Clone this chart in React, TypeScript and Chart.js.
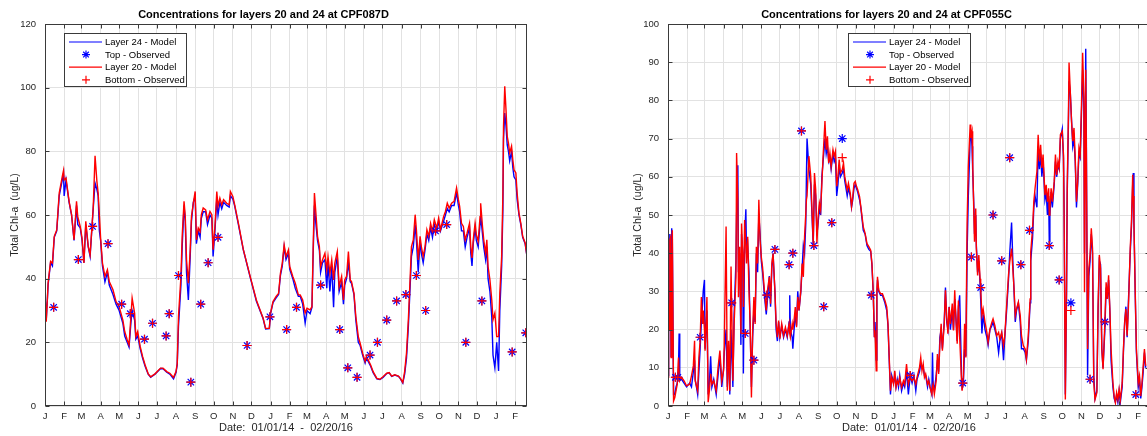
import React, { useEffect, useRef } from "react";
import { Chart, registerables } from "chart.js";

Chart.register(...registerables);

const FONT = '"Liberation Sans", Arial, Helvetica, sans-serif';

// ---------- axis ticks (month starts, days since 01/01/14) ----------
const monthLabels = ["J","F","M","A","M","J","J","A","S","O","N","D","J","F","M","A","M","J","J","A","S","O","N","D","J","F"];
const monthTickDays = [0,31,59,90,120,151,181,212,243,273,304,334,365,396,424,455,485,516,546,577,608,638,669,699,730,761];
const dayMax = 780;

const seriesLabels = ["Layer 24 - Model", "Top - Observed", "Layer 20 - Model", "Bottom - Observed"];

// ---------- CPF087D ----------
const days1 = [
  0,2,4,5,9,12,15,19,23,28,
  30,31,34,39,43,47,51,53,57,60,
  63,66,70,73,76,78,81,84,86,88,
  90,93,97,101,104,110,115,120,126,129,
  133,136,139,141,145,147,150,154,158,162,
  167,171,178,187,191,197,202,208,212,214,
  216,220,222,225,227,229,232,235,237,240,
  243,245,248,251,253,256,260,263,267,270,
  272,275,278,280,283,286,289,294,298,300,
  304,307,313,321,332,342,353,357,363,365,
  369,374,378,381,384,387,390,394,396,401,
  405,410,413,417,421,424,429,432,434,436,
  438,441,444,446,449,453,456,458,461,464,
  467,469,473,476,480,483,485,488,491,494,
  496,500,503,507,510,514,518,520,523,527,
  531,537,542,547,553,557,561,566,572,575,
  579,582,585,588,591,593,596,599,601,604,
  607,609,612,615,618,621,624,627,630,634,
  637,640,645,648,651,654,658,662,666,669,
  671,674,677,680,683,687,689,691,693,696,
  698,701,704,705,708,710,713,715,717,720,
  723,725,728,731,734,736,739,741,742,744,
  746,748,750,752,755,757,759,762,764,767,
  770,773,777,780
];
const layer20Model1 = [
  35.4,26.5,34.4,38.6,45.4,44.9,53.3,55.3,66.9,72.1,
  74,71,71.6,64.3,60.1,52.2,64.3,59.5,56.4,52.7,
  44.9,58,50.1,47.5,56.4,62.2,78.6,70.5,66.9,60,
  52.7,44.9,40.7,42.8,39.1,36.5,32.8,31.2,27,23.4,
  20.8,19.2,28.1,33.9,29.2,21.8,23.4,18.7,15.5,12.9,
  10.1,9.2,10.1,11.9,11.9,10.8,10.3,9,10.8,13.4,
  28.1,40.7,53.3,64.3,59.5,45.9,38.6,49.1,59.5,63.7,
  67.4,52.2,55.9,54.8,60.1,62.2,61.6,58.5,61.1,60.1,
  49.1,56.4,67.4,62.7,65.3,63.2,64.8,63.7,63.2,67.4,
  65.8,63.2,57.4,49.1,40.7,33.3,27.6,24.4,24.4,29.2,
  32.8,34.4,35.4,41.7,44.9,50.6,47,49.1,43.8,40.7,
  38.6,34.9,34.9,33.3,29.2,30.7,30.2,31.2,50.1,66.9,
  61.6,53.3,50.1,43.8,45.9,48,42.8,47,41.7,45.9,
  39.6,44.9,48.5,37.5,40.7,33.3,39.6,40.7,48.5,39.6,
  39.1,35.4,28.1,21.8,19.7,16.6,14,15.5,14.5,12.9,
  10.8,8.7,8.4,9.2,10.3,10.5,9.4,9.8,9.4,8.7,
  7.4,10.8,16.6,27.1,40.7,50.1,52.2,60.1,55.4,45.9,
  53.3,50.1,47,50.1,55.4,53.3,57.4,54.8,58.5,55.9,
  59,55.4,59.5,61.1,63.7,62.2,63.7,64.3,68.5,64.8,
  62.7,57.4,56.4,52.2,54.3,57.4,50.1,46.5,52.2,57.4,
  53.8,51.7,59.5,63.7,56.4,52.2,48,52.2,43.8,39.6,
  33.3,27.1,29.2,21.8,21.8,35.4,47,66.9,87.8,100.4,
  93.1,84.7,82.6,79.5,81.6,77.4,74.2,73.2,66.9,60.6,
  57.4,53.3,51.2,47
];
const layer24Model1 = [
  35,27,34,38,45,44,53,55,66,71,
  73,66,71,64,60,52,63,57,56,52,
  45,57,50,47,56,62,70,68,66,55,
  52,44,39,42,38,35,32,30,26,22,
  20,18.5,26,30,27,21,22,18,15,12.5,
  10,9,10,11.8,11.7,10.6,10,8.5,10.5,13,
  25,38,50,63,58,42,33.3,47,58,64,
  66,51,55,53,59,61,61,57,60,59,
  47,55,65,60,64,62,64,63,62.5,66,
  65,62.8,57,49,40.5,33,27.4,24.2,24.3,29,
  32.5,34,35,41,44,50,46,48,43,40,
  37,34.5,34.5,32,26,30,29,31,48,63,
  58,52,49,42,45,46,37,45,36,44,
  31,42,47,36,39,32,38,40,45,39,
  38.5,35,27,20,19,16,13.5,15,14,12.5,
  10.5,8.5,8.3,9,10.2,10.4,9.3,9.7,9.3,8.6,
  7.2,10,15,25,38,47,50,57,52,42,
  52,48,45,49,54,52,56,53,57,55,
  58,55,58,60,62,61,63,63,67,63,
  61,55,55,50,53,56,48,44,51,56,
  52,50,57,60,54,50,46,50,40,36,
  28,16,12,20,11,30,44,62,84,92,
  88,82,80,77,80,75,72,71,65,60,
  57,53,51,47
];
const obsDays1 = [14,54,77,102,124,138,161,174,196,201,216,236,252,264,280,327,364,391,407,446,477,490,505,526,538,553,569,584,601,616,632,650,681,707,756,778];
const topObs1 = [31,46,56.4,51,32,29,21,26,22,29,41,7.5,32,45,53,19,28,24,31,38,24,12,9,16,20,27,33,35,41,30,55,57,20,33,17,23];
const bottomObs1 = [31,46,56.4,51,32,29,21,26,22,29,41,7.5,32,45,53,19,28,24,31,38,24,12,9,16,20,27,33,35,41,30,55,57,20,33,17,23];

// ---------- CPF055C ----------
const days2 = [
  0,1,2,3,4,5,6,7,9,11,
  13,15,17,18,19,22,26,30,35,38,
  41,43,44,48,50,52,54,56,57,59,
  60,63,65,67,69,71,74,78,81,84,
  87,90,91,94,96,98,100,102,105,107,
  110,111,113,114,116,118,119,121,122,124,
  126,127,129,131,133,135,137,139,141,143,
  145,147,149,151,153,156,159,161,164,166,
  168,170,173,175,177,179,181,184,187,190,
  193,196,197,198,201,202,204,206,208,210,
  212,215,217,219,221,223,224,225,228,231,
  233,235,237,239,241,243,245,247,249,251,
  254,256,258,260,262,264,267,269,271,273,
  275,277,279,282,284,286,288,290,292,295,
  297,299,301,303,305,307,310,312,314,316,
  319,322,325,328,330,332,334,335,337,338,
  339,341,344,347,351,354,356,358,360,362,
  365,367,369,371,373,375,378,381,383,386,
  389,392,395,398,401,403,407,409,411,413,
  415,417,420,422,424,427,428,429,431,434,
  436,438,440,442,444,447,449,451,453,455,
  457,460,462,464,466,468,470,472,475,476,
  478,480,482,484,486,489,490,492,493,495,
  496,498,499,501,503,505,506,508,510,513,
  516,518,521,524,526,529,532,535,537,540,
  543,545,548,551,553,556,558,560,562,564,
  567,570,572,575,578,580,583,586,587,590,
  592,594,597,599,601,603,605,607,610,612,
  614,616,617,618,620,622,625,627,629,631,
  633,635,638,640,641,643,645,646,648,649,
  651,653,655,657,659,661,663,665,667,669,
  671,673,674,676,677,679,681,683,685,687,
  689,691,694,696,698,700,702,704,707,709,
  711,713,715,717,720,722,724,726,728,730,
  732,735,737,739,741,743,745,748,750,752,
  753,754,756,758,761,763,765,767,769,771,
  773
];
const layer20Model2 = [
  7.5,26.8,19.8,43.4,44,12.7,30,46,1.3,2.2,
  4,5.7,12.7,8,6.6,7.5,6.6,5.3,5.7,7.9,
  10.5,17.1,6.6,4,12.7,17.1,28.5,21.5,25,20,
  14.5,28.5,1,4,8.4,5.7,6.6,4,10.1,14.5,
  6.6,9.3,15.4,47,4,17.1,4,36.5,6.6,21.5,
  33.8,66.2,54,28.5,41.7,18.9,47.8,39,25.9,48.7,
  41.7,37.3,44.3,30.3,21.5,2.2,19.8,28.5,21.5,41.7,
  37.3,54,43.4,39,36.4,30.3,25,30.3,33.8,26.8,
  37.3,39.9,30.3,21.5,18,22.4,17.6,21.5,18.4,20.6,
  18.4,21.5,19,18,21.5,20,22.4,25.9,20.6,28.5,
  25,30.3,37.3,33.8,44.3,50.5,54,55,65.4,60.1,
  51.3,42.5,61,56.6,42.5,49.6,53.1,51.3,58.3,65.4,
  74.6,67.1,70.6,63.6,66.2,62.7,67.1,65.4,66.7,57.5,
  60.1,64.5,61,61.9,63.6,60.1,58.3,56.6,58.3,55.7,
  52.2,54.8,58.3,58.8,57.5,56.6,54.8,52.2,49.6,46.9,
  45.2,42.5,41.7,40.8,37.3,30.3,18,19.8,9.2,30.3,
  33.8,30.3,29.4,29.4,27.6,25.9,21.5,12.7,4,7.5,
  5.7,9.2,4.9,6.6,5.7,7.5,4.9,6.6,5.7,11,
  5.7,7.5,6.6,7.5,5.7,7.5,10.1,12.7,9.2,11,
  7.5,8.4,5.7,6.6,4.9,3.1,5,5.7,3.1,6.6,
  13.6,8.4,16.3,21.5,14.5,21.5,30.3,23.3,18.9,25.9,
  21.5,26.8,19.8,30.3,22.4,16.3,27.6,18,6.6,4,
  7.5,21.5,12.7,47.8,62.7,73.7,70.2,71.9,64,50,
  43,51.7,41.2,34.2,39.5,33.3,30.7,23.7,25.4,21.9,
  19.3,16.7,20.2,21.9,22.8,21,18.4,19.3,17.5,19.3,
  15.8,18.4,26.3,34.2,37.7,41.2,36,30.7,23.7,25.4,
  27.2,23.7,18.4,15.8,14.9,12.3,18.4,28,40.3,46.5,
  53.5,57,61.4,71,64,68.4,62.3,65.8,55.2,57.9,
  53.5,57,50,51.7,57,53.5,58.8,65.8,60.5,64,
  62.3,71,71.9,65.8,50,1.7,32.4,57,76.3,89.9,
  82.4,74.5,69.3,72.8,64.9,53.5,58.8,67.5,65.8,78,
  92.5,80.7,29.8,88,67.5,14.9,36,39.5,46.5,41.2,
  6.1,1.7,3.5,26.3,39.5,36,14.9,9.6,21.9,32.4,
  28,34.2,25.4,14.9,6.1,2.6,0.9,3.5,1.7,4.4,
  1.7,6.1,14.9,21.9,25.4,18.4,25.4,41.2,48.2,60.5,
  55,48.2,30.7,14.9,6.1,7.9,2.6,6.1,10.5,14.9,
  10.5
];
const layer24Model2 = [
  8,20,25,45,40,13,46.5,44,3,3,
  5,6,10,19,7,7,6,5,6,5,
  9,12,7,3,9,15,22,27,30,33,
  15,25,3,6,13,5,7,3,8,13,
  5,10,14,20,5,16,3,20,5,24,
  38,50,63,35,40,16,45,40,8.5,44,
  51.5,40,42,35,20,5,18,25,22,40,
  35,50,45,38,35,29,24,28,34,26,
  36,40,30,20,17,22,18,21,18,20,
  18,22,29,20,18,15,20,24,21,30,
  25,30,36,42,40,48,60,70,62,58,
  50,42,58,55,45,48,52,50,60,64,
  70,66,68,64,65,62,66,64,65,55,
  58,63,60,61,62,59,57,55,57,55,
  52,54,57,58,57,56,54,52,49,46,
  45,42,41,40.5,37,30,18,22,12,29,
  33,30,29,29,27,25,21,12,3,8,
  6,8,5,7,5,8,4,6,5,9,
  3,8,6,8,4,7,9,11,10,10,
  8,8,5,7,5,3,14,6,4,8,
  12,9,18,20,15,22,31,22,20,26,
  20,25,20,28,23,17,26,29,8,5,
  6,15,13,40,55,70,72,68,62,52,
  45,50,42,35,38,32,28,19,24,20,
  18,16,20,21,22,20,18,14,17,19,
  12,18,25,33,40,48,38,30,22,25,
  27,22,15,15,14,12,17,27,38,44,
  52,55,52,68,62,66,60,64,54,56,
  50,55,43,50,56,52,58,64,60,63,
  62,70,72.5,65,52,3,30,55,74,85,
  82,75,68,70,64,52,58,66,65,76,
  88,78,40,93.5,70,8,34,38,45,40,
  8,2,4,25,38,37,15,10,20,31,
  28,33,25,12,5,2,1,3,1,4,
  1,5,14,22,26,18,27,40,47,58,
  61,48,30,14,5,7,2,5,9,14,
  10
];
const obsDays2 = [12,16,52,103,125,139,160,173,196,202,216,236,252,265,282,329,392,477,491,506,526,540,553,571,585,617,633,652,683,707,757];
const topObs2 = [7.5,7.5,18,27,19,12,29,41,37,40,72,42,26,48,70,29,8,6,39,31,50,38,65,37,46,42,33,27,7,22,3];
const bottomObs2 = [7.5,7.5,18,27,19,12,29,41,37,40,72,42,26,48,65,29,8,6,39,31,50,38,65,37,46,42,33,25,7,22,3];

// ---------- plugins ----------
const AXIS_COLOR = "#3a3a3a";

const boxPlugin = {
  id: "matlabBox",
  afterDatasetsDraw(chart: any) {
    const { ctx, chartArea: ca, scales } = chart;
    ctx.save();
    ctx.strokeStyle = AXIS_COLOR;
    ctx.lineWidth = 1;
    const L = Math.round(ca.left) + 0.5;
    const R = Math.round(ca.right) - 0.5;
    const T = Math.round(ca.top) + 0.5;
    const B = Math.round(ca.bottom) - 0.5;
    ctx.strokeRect(L, T, R - L, B - T);
    const tl = 4;
    ctx.beginPath();
    scales.x.ticks.forEach((t: any) => {
      const px = Math.round(scales.x.getPixelForValue(t.value)) + 0.5;
      ctx.moveTo(px, B); ctx.lineTo(px, B - tl);
      ctx.moveTo(px, T); ctx.lineTo(px, T + tl);
    });
    scales.y.ticks.forEach((t: any) => {
      const py = Math.round(scales.y.getPixelForValue(t.value)) + 0.5;
      ctx.moveTo(L, py); ctx.lineTo(L + tl, py);
      ctx.moveTo(R, py); ctx.lineTo(R - tl, py);
    });
    ctx.stroke();
    ctx.restore();
  },
};

function drawMarker(ctx: CanvasRenderingContext2D, kind: string, x: number, y: number, r: number) {
  ctx.beginPath();
  if (kind === "star") {
    for (let k = 0; k < 4; k++) {
      const a = (k * Math.PI) / 4;
      ctx.moveTo(x - r * Math.cos(a), y - r * Math.sin(a));
      ctx.lineTo(x + r * Math.cos(a), y + r * Math.sin(a));
    }
  } else {
    ctx.moveTo(x - r, y); ctx.lineTo(x + r, y);
    ctx.moveTo(x, y - r); ctx.lineTo(x, y + r);
  }
  ctx.stroke();
}

const legendPlugin = {
  id: "matlabLegend",
  afterDraw(chart: any, _args: any, opts: any) {
    const { ctx, chartArea: ca } = chart;
    const x0 = Math.round(ca.left + opts.dx) + 0.5;
    const y0 = Math.round(ca.top + opts.dy) + 0.5;
    const w = 122, h = 53;
    ctx.save();
    ctx.fillStyle = "#ffffff";
    ctx.fillRect(x0, y0, w, h);
    ctx.strokeStyle = AXIS_COLOR;
    ctx.lineWidth = 1;
    ctx.strokeRect(x0, y0, w, h);
    ctx.font = `9.5px ${FONT}`;
    ctx.textBaseline = "middle";
    chart.data.datasets.forEach((ds: any, i: number) => {
      const cy = y0 + 8.5 + i * 12.6;
      ctx.strokeStyle = ds.borderColor;
      ctx.lineWidth = 1.2;
      if (ds.showLine === false) {
        drawMarker(ctx, ds.pointStyle, x0 + 21.5, cy, 4);
      } else {
        ctx.beginPath();
        ctx.moveTo(x0 + 4.5, cy);
        ctx.lineTo(x0 + 37.5, cy);
        ctx.stroke();
      }
      ctx.fillStyle = "#000000";
      ctx.fillText(ds.label, x0 + 40.5, cy + 0.5);
    });
    ctx.restore();
  },
};

// ---------- chart factory ----------
type Spec = {
  title: string;
  yMax: number;
  yStep: number;
  days: number[];
  layer24: number[];
  layer20: number[];
  obsDays: number[];
  top: number[];
  bottom: number[];
  legendDx: number;
};

const specs: Spec[] = [
  { title: "Concentrations for layers 20 and 24 at CPF087D", yMax: 120, yStep: 20, days: days1, layer24: layer24Model1, layer20: layer20Model1, obsDays: obsDays1, top: topObs1, bottom: bottomObs1, legendDx: 18.6 },
  { title: "Concentrations for layers 20 and 24 at CPF055C", yMax: 100, yStep: 10, days: days2, layer24: layer24Model2, layer20: layer20Model2, obsDays: obsDays2, top: topObs2, bottom: bottomObs2, legendDx: 179.6 },
];

const CW = 572;
const CH = 436;

function makeConfig(s: Spec): any {
  const tickFont = { family: FONT, size: 9.5 };
  const titleFont = { family: FONT, size: 11 };
  return {
    type: "line",
    data: {
      datasets: [
        { label: seriesLabels[0], data: s.days.map((d, i) => ({ x: d, y: s.layer24[i] })), borderColor: "#0000ff", backgroundColor: "#0000ff", borderWidth: 1.4, pointRadius: 0, tension: 0, order: 4 },
        { label: seriesLabels[1], data: s.obsDays.map((d, i) => ({ x: d, y: s.top[i] })), showLine: false, pointStyle: "star", pointRadius: 4.5, borderColor: "#0000ff", pointBorderColor: "#0000ff", pointBorderWidth: 1.2, order: 2 },
        { label: seriesLabels[2], data: s.days.map((d, i) => ({ x: d, y: s.layer20[i] })), borderColor: "#ff0000", backgroundColor: "#ff0000", borderWidth: 1.4, pointRadius: 0, tension: 0, order: 3 },
        { label: seriesLabels[3], data: s.obsDays.map((d, i) => ({ x: d, y: s.bottom[i] })), showLine: false, pointStyle: "cross", pointRadius: 4.5, borderColor: "#ff0000", pointBorderColor: "#ff0000", pointBorderWidth: 1.2, order: 1 },
      ],
    },
    options: {
      responsive: false,
      animation: false,
      devicePixelRatio: 1,
      events: [],
      layout: { padding: { left: 0, right: CW - 527, top: 0, bottom: 0 } },
      plugins: {
        legend: { display: false },
        tooltip: { enabled: false },
        title: {
          display: true,
          text: s.title,
          color: "#000000",
          font: { family: FONT, size: 11, weight: "bold" },
          padding: { top: 8, bottom: 2.8 },
        },
        matlabLegend: { dx: s.legendDx, dy: 9 },
      },
      scales: {
        x: {
          type: "linear",
          min: 0,
          max: dayMax,
          afterBuildTicks: (axis: any) => {
            axis.ticks = monthTickDays.map((v) => ({ value: v }));
          },
          afterFit: (axis: any) => {
            axis.height = 30;
          },
          ticks: {
            autoSkip: false,
            maxRotation: 0,
            minRotation: 0,
            color: "#262626",
            font: tickFont,
            padding: 5,
            callback: (_v: any, i: number) => monthLabels[i],
          },
          grid: { color: "#e2e2e2", lineWidth: 1, drawTicks: false },
          border: { display: false },
          title: {
            display: true,
            text: "Date:  01/01/14  -  02/20/16",
            color: "#262626",
            font: titleFont,
            padding: { top: 0, bottom: 1 },
          },
        },
        y: {
          min: 0,
          max: s.yMax,
          afterFit: (axis: any) => {
            axis.width = 45;
          },
          ticks: {
            stepSize: s.yStep,
            color: "#262626",
            font: tickFont,
            padding: 9,
          },
          grid: { color: "#e2e2e2", lineWidth: 1, drawTicks: false },
          border: { display: false },
          title: {
            display: true,
            text: "Total Chl-a  (ug/L)",
            color: "#262626",
            font: { family: FONT, size: 10.5 },
            padding: { top: 9, bottom: 0 },
          },
        },
      },
    },
    plugins: [boxPlugin, legendPlugin],
  };
}

function ChartPanel({ spec, left }: { spec: Spec; left: number }) {
  const ref = useRef<HTMLCanvasElement>(null);
  useEffect(() => {
    const chart = new Chart(ref.current as HTMLCanvasElement, makeConfig(spec));
    return () => chart.destroy();
  }, [spec]);
  return (
    <canvas
      ref={ref}
      width={CW}
      height={CH}
      style={{ position: "absolute", left, top: 0, width: CW, height: CH, display: "block" }}
    />
  );
}

export default function App() {
  return (
    <div
      style={{
        position: "absolute",
        left: 0,
        top: 0,
        width: 1147,
        height: 436,
        overflow: "hidden",
        background: "#ffffff",
      }}
    >
      <ChartPanel spec={specs[0]} left={0} />
      <ChartPanel spec={specs[1]} left={623} />
    </div>
  );
}
